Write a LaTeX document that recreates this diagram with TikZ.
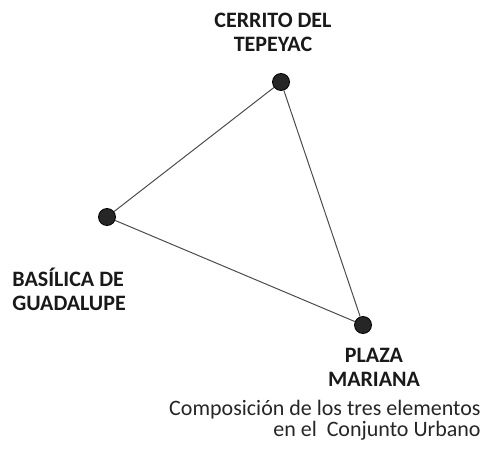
\documentclass[tikz,border=0pt]{standalone}
\usepackage{fontspec}
\setmainfont{Carlito}
\usepackage{tikz}
\usetikzlibrary{positioning}

\begin{document}
\begin{tikzpicture}[
    x=0.5pt, y=-0.5pt,
    site/.style={draw=black, fill=black!85, circle, inner sep=0pt, minimum size=8.5pt},
    link/.style={draw=black!70, line width=0.5pt},
    sitelabel/.style={font=\fontsize{11}{12}\selectfont\bfseries, inner sep=0pt, text=black!90},
    caption/.style={font=\fontsize{11}{10.2}\selectfont, inner sep=0pt, align=right, text=black!85}
]
    \useasboundingbox (0,0) rectangle (486,449);

    % Sites
    \node[site] (cerrito) at (281,82) {};
    \node[site] (basilica) at (107,217) {};
    \node[site] (plaza) at (363,325) {};

    % Site labels
    \node[sitelabel, align=center, anchor=north] (cerritolbl) at (273,13) {CERRITO DEL\\TEPEYAC};
    \node[sitelabel, align=left, anchor=north west] (basilicalbl) at (12,268) {BASÍLICA DE\\GUADALUPE};
    \node[sitelabel, align=center, anchor=north] (plazalbl) at (374,348) {PLAZA\\MARIANA};

    % Caption
    \node[caption, anchor=north east] (caption) at (481,400) {Composición de los tres elementos\\en el\ \ Conjunto Urbano};

    % Links between the three sites
    \draw[link] (cerrito) -- (basilica);
    \draw[link] (basilica) -- (plaza);
    \draw[link] (plaza) -- (cerrito);

\end{tikzpicture}
\end{document}
